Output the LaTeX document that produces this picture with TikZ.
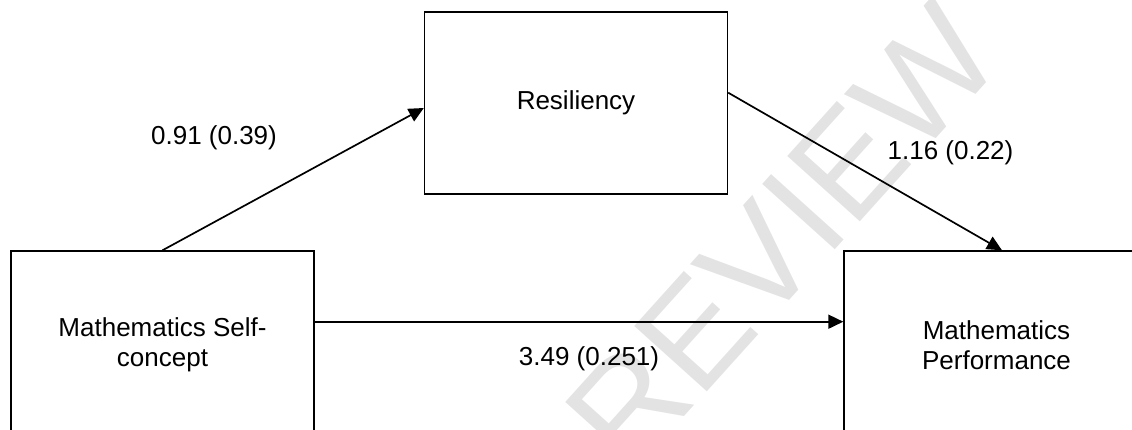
\documentclass[tikz,border=0pt]{standalone}
\usepackage{fontspec}
\setmainfont{Liberation Sans}
\usetikzlibrary{arrows.meta}
\begin{document}
\begin{tikzpicture}[x=1pt,y=-1pt,
  box/.style={draw=black,line width=1.4pt,fill=white,align=center,inner sep=0pt,
    font=\fontsize{26}{30.5}\selectfont},
  lbl/.style={inner sep=0pt,anchor=base,font=\fontsize{26}{30.5}\selectfont},
  conn/.style={draw=black,line width=1.7pt,-{Triangle[length=15pt,width=14pt]}},
  wm/.style={text=gray!22,font=\fontsize{142}{146}\selectfont,rotate=48}]
\useasboundingbox (0,0) rectangle (1132,430);
\begin{scope}
\clip (0,0) rectangle (1132,430);
\node[wm] (watermark) at (782,236) {REVIEW};
\node[box,minimum width=303pt,minimum height=182pt] (res) at (576,103) {Resiliency};
\node[box,minimum width=303pt,minimum height=188pt] (msc) at (162.5,345) {Mathematics Self-\\concept};
\node[box,minimum width=305pt,minimum height=188pt] (mp) at (996.5,345) {Mathematics\\Performance};
\end{scope}
\draw[conn] (msc.north) -- ([yshift=-5pt]res.west);
\draw[conn] ([yshift=10.3pt]res.east) -- ([xshift=5.5pt]mp.north);
\draw[conn] ([yshift=23.3pt]msc.east) -- ([yshift=23.3pt]mp.west);
\node[lbl] (l1) at (214,145) {0.91 (0.39)};
\node[lbl] (l2) at (950.5,160) {1.16 (0.22)};
\node[lbl] (l3) at (589,365) {3.49 (0.251)};
\end{tikzpicture}
\end{document}
